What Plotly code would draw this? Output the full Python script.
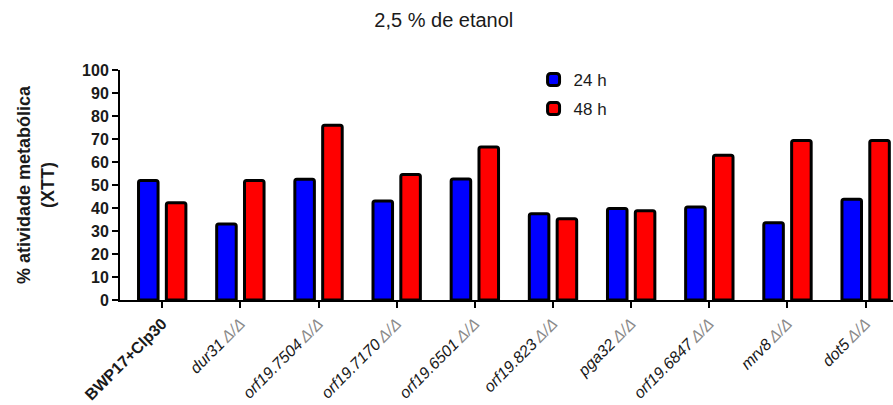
import plotly.graph_objects as go

# Strain labels (wild type + homozygous deletion mutants)
strains = ["BWP17+Clp30", "dur31", "orf19.7504", "orf19.7170", "orf19.6501",
           "orf19.823", "pga32", "orf19.6847", "mrv8", "dot5"]
# Metabolic activity (% XTT) after 24 h and 48 h in 2.5 % ethanol
activity_24h = [52, 33, 52.5, 43, 52.6, 37.5, 39.8, 40.4, 33.6, 43.8]
activity_48h = [42.3, 52, 76, 54.6, 66.5, 35.3, 38.8, 62.9, 69.3, 69.3]
y_ticks = [0, 10, 20, 30, 40, 50, 60, 70, 80, 90, 100]

FONT = "Arial, Liberation Sans, sans-serif"
INK = "#1a1a1a"

tick_text = ["<b>" + strains[0] + "</b>"] + [
    "<i>" + s + "<span style='color:#8a8a8a'>\u2009Δ/Δ</span></i>" for s in strains[1:]
]
x_pos = list(range(len(strains)))

bar_w = 0.25
half_gap = 0.178

fig = go.Figure()
fig.add_trace(go.Bar(
    x=x_pos, y=activity_24h, name="24 h",
    width=bar_w, offset=-half_gap - bar_w / 2,
    marker=dict(color="#0000ff", line=dict(color="black", width=3), cornerradius=2),
    legendgroup="a",
))
fig.add_trace(go.Bar(
    x=x_pos, y=activity_48h, name="48 h",
    width=bar_w, offset=half_gap - bar_w / 2,
    marker=dict(color="#ff0000", line=dict(color="black", width=3), cornerradius=2),
    legendgroup="b",
))

fig.update_layout(
    width=893, height=405,
    margin=dict(l=120, r=0, t=70, b=105),
    plot_bgcolor="white", paper_bgcolor="white",
    barmode="overlay",
    font=dict(family=FONT, color=INK),
    title=dict(text="2,5 % de etanol", x=0.497, xref="container", xanchor="center",
               y=0.951, yref="container", yanchor="middle",
               font=dict(size=20, family=FONT, color=INK)),
    showlegend=True,
    legend=dict(x=0.535, y=1.035, xanchor="left", yanchor="top",
                font=dict(size=17, family=FONT, color=INK), tracegroupgap=4,
                bgcolor="rgba(0,0,0,0)", itemwidth=30),
    xaxis=dict(
        range=[-0.54, 9.35], tickmode="array", tickvals=x_pos, ticktext=tick_text,
        tickangle=-45, ticks="outside", ticklen=6, tickwidth=2, tickcolor="black",
        showline=True, linecolor="black", linewidth=2, showgrid=False, zeroline=False,
        tickfont=dict(size=16, family=FONT, color=INK),
    ),
    yaxis=dict(
        range=[0, 100], tickmode="array", tickvals=y_ticks,
        ticks="outside", ticklen=6, tickwidth=2, tickcolor="black",
        showline=True, linecolor="black", linewidth=2, showgrid=False, zeroline=False,
        tickfont=dict(size=16, family=FONT, color=INK, weight="bold"),
        title=dict(text="<b>% atividade metabólica<br>(XTT)</b>", standoff=23,
                   font=dict(size=18, family=FONT, color=INK)),
    ),
)

fig.write_html("out.html")
